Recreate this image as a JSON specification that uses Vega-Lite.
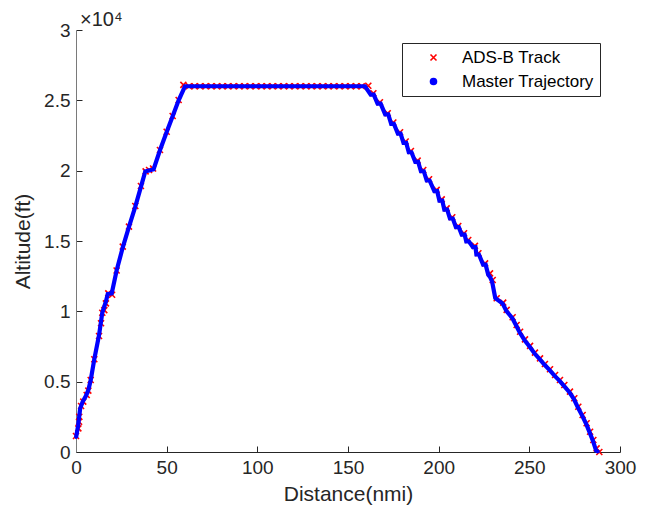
{
  "$schema": "https://vega.github.io/schema/vega-lite/v6.json",
  "width": 544,
  "height": 422,
  "autosize": {"type": "none"},
  "padding": {"left": 76, "top": 30, "right": 28, "bottom": 63},
  "background": "white",
  "title": {"text": "×10⁴", "anchor": "start", "frame": "group", "dx": 4, "dy": 13, "offset": 4, "fontSize": 20, "fontWeight": "normal", "color": "#262626", "font": "Liberation Sans"},
  "config": {
    "view": {"stroke": null},
    "font": "Liberation Sans",
    "axis": {
      "grid": false,
      "labelFontSize": 19,
      "titleFontSize": 21,
      "titleFontWeight": "normal",
      "labelColor": "#262626",
      "titleColor": "#262626",
      "tickColor": "#262626",
      "domainColor": "#262626",
      "tickSize": -6,
      "labelFlush": false,
      "labelFont": "Liberation Sans",
      "titleFont": "Liberation Sans"
    },
    "legend": {"labelFont": "Liberation Sans"}
  },
  "datasets": {
    "ads": [
      {"d": 0.0, "a": 1140}, {"d": 1.3, "a": 1680}, {"d": 1.7, "a": 2150}, {"d": 1.8, "a": 2510},
      {"d": 2.8, "a": 3270}, {"d": 4.0, "a": 3580}, {"d": 5.9, "a": 4050}, {"d": 6.8, "a": 4360},
      {"d": 8.1, "a": 5120}, {"d": 10.1, "a": 6590}, {"d": 12.7, "a": 8250}, {"d": 13.8, "a": 9150},
      {"d": 14.5, "a": 9900}, {"d": 15.6, "a": 10090}, {"d": 16.5, "a": 10570}, {"d": 17.8, "a": 11280},
      {"d": 19.9, "a": 11180}, {"d": 22.4, "a": 12900}, {"d": 25.8, "a": 14600}, {"d": 29.2, "a": 16020},
      {"d": 32.7, "a": 17490}, {"d": 35.8, "a": 18910}, {"d": 38.4, "a": 19950}, {"d": 40.3, "a": 20050},
      {"d": 42.5, "a": 20150}, {"d": 46.3, "a": 21470}, {"d": 50.0, "a": 22770}, {"d": 53.3, "a": 23890},
      {"d": 56.6, "a": 25020}, {"d": 59.2, "a": 26100},
      {"d": 62.3, "a": 26000}, {"d": 65.4, "a": 26000}, {"d": 68.4, "a": 26000}, {"d": 71.5, "a": 26000},
      {"d": 74.6, "a": 26000}, {"d": 77.7, "a": 26000}, {"d": 80.7, "a": 26000}, {"d": 83.8, "a": 26000},
      {"d": 86.9, "a": 26000}, {"d": 90.0, "a": 26000}, {"d": 93.0, "a": 26000}, {"d": 96.1, "a": 26000},
      {"d": 99.2, "a": 26000}, {"d": 102.3, "a": 26000}, {"d": 105.3, "a": 26000}, {"d": 108.4, "a": 26000},
      {"d": 111.5, "a": 26000}, {"d": 114.6, "a": 26000}, {"d": 117.6, "a": 26000}, {"d": 120.7, "a": 26000},
      {"d": 123.8, "a": 26000}, {"d": 126.9, "a": 26000}, {"d": 129.9, "a": 26000}, {"d": 133.0, "a": 26000},
      {"d": 136.1, "a": 26000}, {"d": 139.2, "a": 26000}, {"d": 142.2, "a": 26000}, {"d": 145.3, "a": 26000},
      {"d": 148.4, "a": 26000}, {"d": 151.5, "a": 26000}, {"d": 154.5, "a": 26000}, {"d": 157.6, "a": 26000},
      {"d": 161.2, "a": 26040}, {"d": 164.0, "a": 25500}, {"d": 167.6, "a": 24860}, {"d": 171.9, "a": 24080},
      {"d": 175.0, "a": 23420}, {"d": 178.7, "a": 22730}, {"d": 181.8, "a": 22070}, {"d": 184.7, "a": 21400},
      {"d": 188.4, "a": 20710}, {"d": 191.5, "a": 20050}, {"d": 194.7, "a": 19390}, {"d": 198.9, "a": 18630},
      {"d": 201.7, "a": 17960}, {"d": 204.4, "a": 17320}, {"d": 207.5, "a": 16690}, {"d": 210.8, "a": 16070},
      {"d": 214.0, "a": 15550}, {"d": 216.3, "a": 15070}, {"d": 220.0, "a": 14650}, {"d": 221.9, "a": 14130},
      {"d": 225.6, "a": 13410}, {"d": 228.3, "a": 12700}, {"d": 229.8, "a": 12230}, {"d": 232.0, "a": 10930},
      {"d": 235.6, "a": 10620}, {"d": 237.5, "a": 10100}, {"d": 240.8, "a": 9580}, {"d": 243.0, "a": 9030},
      {"d": 244.9, "a": 8550}, {"d": 247.6, "a": 8010}, {"d": 250.4, "a": 7540}, {"d": 253.1, "a": 7060},
      {"d": 255.9, "a": 6660}, {"d": 258.6, "a": 6260}, {"d": 261.4, "a": 5880}, {"d": 264.2, "a": 5470},
      {"d": 266.9, "a": 5120}, {"d": 269.3, "a": 4760}, {"d": 272.4, "a": 4290}, {"d": 274.8, "a": 3820},
      {"d": 277.0, "a": 3220}, {"d": 279.4, "a": 2630}, {"d": 281.6, "a": 2040}, {"d": 283.5, "a": 1440},
      {"d": 285.3, "a": 850}, {"d": 287.1, "a": 260}, {"d": 288.6, "a": 0}
    ],
    "master": [
      {"d": 0.0, "a": 1000}, {"d": 1.2, "a": 1900}, {"d": 2.3, "a": 3100}, {"d": 3.6, "a": 3550},
      {"d": 5.5, "a": 4000}, {"d": 6.8, "a": 4400}, {"d": 8.1, "a": 5100}, {"d": 10.1, "a": 6600},
      {"d": 12.7, "a": 8300}, {"d": 14.5, "a": 9900}, {"d": 16.5, "a": 10700}, {"d": 17.5, "a": 11230},
      {"d": 19.7, "a": 11280}, {"d": 22.4, "a": 12900}, {"d": 25.8, "a": 14550}, {"d": 29.2, "a": 16000},
      {"d": 32.7, "a": 17450}, {"d": 35.8, "a": 18850}, {"d": 38.2, "a": 19950}, {"d": 42.8, "a": 20100},
      {"d": 46.3, "a": 21450}, {"d": 50.0, "a": 22750}, {"d": 53.3, "a": 23870}, {"d": 56.6, "a": 25000},
      {"d": 60.1, "a": 26000}, {"d": 159.4, "a": 26000},
      {"d": 162.5, "a": 25400}, {"d": 164.2, "a": 25400}, {"d": 166.3, "a": 24770}, {"d": 168.0, "a": 24770},
      {"d": 170.5, "a": 24000}, {"d": 172.2, "a": 24000}, {"d": 173.8, "a": 23330}, {"d": 175.3, "a": 23330},
      {"d": 177.5, "a": 22640}, {"d": 179.0, "a": 22640}, {"d": 180.6, "a": 21980}, {"d": 182.1, "a": 21980},
      {"d": 183.5, "a": 21310}, {"d": 185.0, "a": 21310}, {"d": 187.1, "a": 20620}, {"d": 188.7, "a": 20620},
      {"d": 190.2, "a": 19960}, {"d": 191.8, "a": 19960}, {"d": 193.4, "a": 19300}, {"d": 195.0, "a": 19300},
      {"d": 197.6, "a": 18540}, {"d": 199.2, "a": 18540}, {"d": 200.4, "a": 17870}, {"d": 202.0, "a": 17870},
      {"d": 203.1, "a": 17230}, {"d": 204.7, "a": 17230}, {"d": 206.2, "a": 16600}, {"d": 207.8, "a": 16600},
      {"d": 209.5, "a": 15980}, {"d": 211.1, "a": 15980}, {"d": 212.7, "a": 15460}, {"d": 214.3, "a": 15460},
      {"d": 215.2, "a": 14980}, {"d": 216.6, "a": 14980}, {"d": 218.9, "a": 14560}, {"d": 220.3, "a": 14560},
      {"d": 220.8, "a": 14040}, {"d": 222.2, "a": 14040}, {"d": 224.5, "a": 13320}, {"d": 225.9, "a": 13320},
      {"d": 227.3, "a": 12610}, {"d": 228.5, "a": 12400}, {"d": 229.5, "a": 12100}, {"d": 231.2, "a": 10950},
      {"d": 235.3, "a": 10550}, {"d": 237.3, "a": 10030}, {"d": 240.6, "a": 9520}, {"d": 242.8, "a": 8970},
      {"d": 244.7, "a": 8490}, {"d": 247.4, "a": 7950}, {"d": 250.2, "a": 7480}, {"d": 252.9, "a": 7000},
      {"d": 255.7, "a": 6600}, {"d": 258.4, "a": 6200}, {"d": 261.2, "a": 5820}, {"d": 264.0, "a": 5410},
      {"d": 266.7, "a": 5060}, {"d": 269.1, "a": 4700}, {"d": 272.2, "a": 4230}, {"d": 274.6, "a": 3760},
      {"d": 276.8, "a": 3160}, {"d": 279.2, "a": 2570}, {"d": 281.4, "a": 1980}, {"d": 283.3, "a": 1380},
      {"d": 285.1, "a": 790}, {"d": 286.8, "a": 100}, {"d": 288.3, "a": 0}
    ]
  },
  "encoding": {
    "x": {
      "field": "d", "type": "quantitative",
      "scale": {"domain": [0, 300], "nice": false, "zero": false},
      "axis": {"title": "Distance(nmi)", "values": [0, 50, 100, 150, 200, 250, 300], "labelPadding": 12, "titlePadding": 6}
    },
    "y": {
      "field": "a", "type": "quantitative",
      "scale": {"domain": [0, 30000], "nice": false},
      "axis": {"title": "Altitude(ft)", "values": [0, 5000, 10000, 15000, 20000, 25000, 30000], "labelExpr": "'' + datum.value / 10000", "labelPadding": 12, "titlePadding": 10, "domainColor": "#7a7a7a"}
    }
  },
  "layer": [
    {
      "data": {"name": "ads"},
      "mark": {"type": "point", "filled": false, "strokeWidth": 1.6, "opacity": 1},
      "encoding": {
        "color": {"datum": "ADS-B Track", "type": "nominal",
          "scale": {"domain": ["ADS-B Track", "Master Trajectory"], "range": ["#ff0000", "#0000ff"]},
          "legend": {"title": null, "orient": "none", "legendX": 326, "legendY": 13, "labelFontSize": 17, "labelColor": "#000000", "strokeColor": "#262626", "fillColor": "white", "padding": 6, "symbolOffset": 17, "labelOffset": 20, "rowPadding": 6, "symbolSize": 36, "symbolStrokeWidth": 1.6,
            "encode": {"symbols": {"update": {"size": {"signal": "datum.value === 'ADS-B Track' ? 36 : 7"}}}}}},
        "shape": {"datum": "ADS-B Track", "type": "nominal",
          "scale": {"domain": ["ADS-B Track", "Master Trajectory"], "range": ["M-1,-1L1,1M-1,1L1,-1", "circle"]}},
        "size": {"value": 36}
      }
    },
    {
      "data": {"name": "master"},
      "mark": {"type": "line", "stroke": "#0000ff", "strokeWidth": 4.2, "strokeJoin": "miter"},
      "encoding": {}
    },
    {
      "data": {"name": "master"},
      "mark": {"type": "point", "filled": true, "opacity": 1},
      "encoding": {
        "color": {"datum": "Master Trajectory", "type": "nominal"},
        "shape": {"datum": "Master Trajectory", "type": "nominal"},
        "size": {"value": 5}
      }
    }
  ]
}
